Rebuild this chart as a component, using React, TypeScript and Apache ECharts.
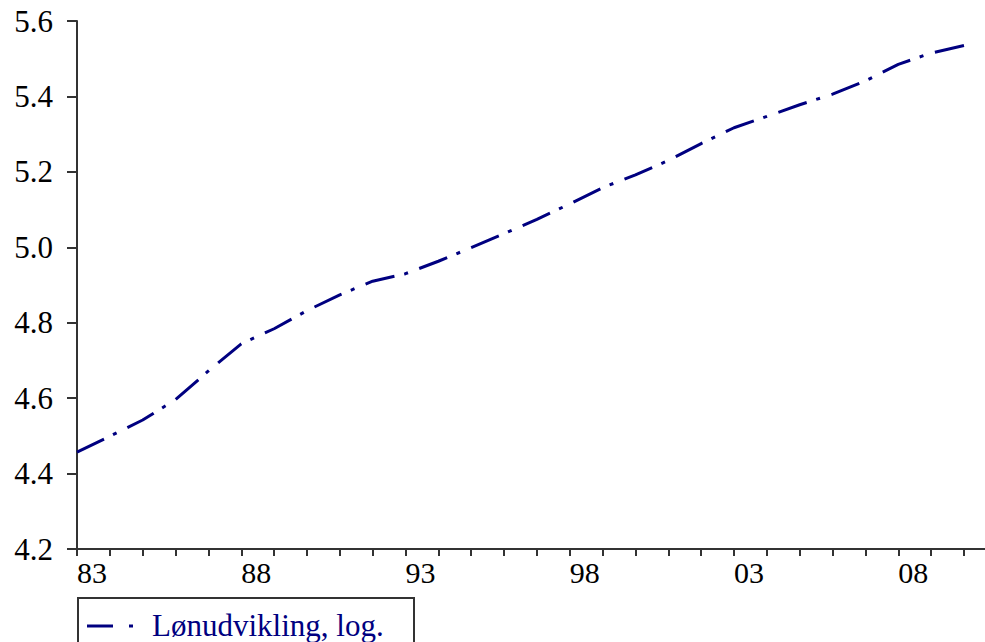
import React, { useEffect, useRef } from "react";
import * as echarts from "echarts";

const years = [1983, 1984, 1985, 1986, 1987, 1988, 1989, 1990, 1991, 1992, 1993, 1994, 1995, 1996, 1997, 1998, 1999, 2000, 2001, 2002, 2003, 2004, 2005, 2006, 2007, 2008, 2009, 2010];
const wageLog = [4.457, 4.499, 4.542, 4.596, 4.672, 4.744, 4.784, 4.832, 4.874, 4.910, 4.930, 4.963, 4.999, 5.036, 5.074, 5.115, 5.158, 5.192, 5.230, 5.275, 5.317, 5.347, 5.378, 5.406, 5.441, 5.485, 5.515, 5.535];
const seriesName = "Lønudvikling, log.";
const yTicks = { min: 4.2, max: 5.6, interval: 0.2 };
const labelEvery = 5;

const FONT = "'Liberation Serif', 'Times New Roman', serif";
const NAVY = "#000080";
const AXIS = "#333333";

export default function App() {
  const ref = useRef<HTMLDivElement>(null);
  useEffect(() => {
    if (!ref.current) return;
    const chart = echarts.init(ref.current, undefined, { renderer: "svg" });
    const data = years.map((y, i) => [y, wageLog[i]]);
    chart.setOption({
      animation: false,
      backgroundColor: "#ffffff",
      grid: { left: 77, top: 21, right: 0, bottom: 93, containLabel: false },
      xAxis: {
        type: "value",
        min: 1983,
        max: 2010.64,
        interval: 1,
        splitLine: { show: false },
        axisLine: { show: true, lineStyle: { color: AXIS, width: 2 } },
        axisTick: { show: true, inside: false, length: 7, lineStyle: { color: AXIS, width: 2 } },
        axisLabel: {
          show: true,
          margin: 8,
          align: "left",
          color: "#000000",
          fontFamily: FONT,
          fontSize: 30,
          showMaxLabel: false,
          formatter: (v: number) => {
            if (Math.abs(v - Math.round(v)) > 1e-6) return "";
            const r = Math.round(v);
            if ((r - years[0]) % labelEvery !== 0) return "";
            return String(r % 100).padStart(2, "0");
          },
        },
      },
      yAxis: {
        type: "value",
        min: yTicks.min,
        max: yTicks.max,
        interval: yTicks.interval,
        splitLine: { show: false },
        axisLine: { show: true, lineStyle: { color: AXIS, width: 2 } },
        axisTick: { show: true, inside: false, length: 10, lineStyle: { color: AXIS, width: 2 } },
        axisLabel: {
          margin: 24,
          color: "#000000",
          fontFamily: FONT,
          fontSize: 31,
          formatter: (v: number) => v.toFixed(1),
        },
      },
      series: [
        {
          name: seriesName,
          type: "line",
          data,
          showSymbol: false,
          symbol: "none",
          lineStyle: { color: NAVY, width: 3, type: [30, 10, 4, 12] },
        },
      ],
      graphic: [
        {
          type: "group",
          left: 77,
          top: 597,
          children: [
            {
              type: "rect",
              shape: { x: 0, y: 0, width: 336, height: 70 },
              style: { fill: "#ffffff", stroke: AXIS, lineWidth: 2 },
            },
            {
              type: "line",
              shape: { x1: 9, y1: 28, x2: 35, y2: 28 },
              style: { stroke: NAVY, lineWidth: 3 },
            },
            {
              type: "line",
              shape: { x1: 51, y1: 28, x2: 55, y2: 28 },
              style: { stroke: NAVY, lineWidth: 3 },
            },
            {
              type: "text",
              x: 74,
              y: 27,
              style: {
                text: seriesName,
                fill: NAVY,
                font: `31px ${FONT}`,
                verticalAlign: "middle",
                align: "left",
              },
            },
          ],
        },
      ],
    });
    return () => chart.dispose();
  }, []);
  return (
    <div
      ref={ref}
      style={{ position: "fixed", left: 0, top: 0, width: 985, height: 642, background: "#fff" }}
    />
  );
}
